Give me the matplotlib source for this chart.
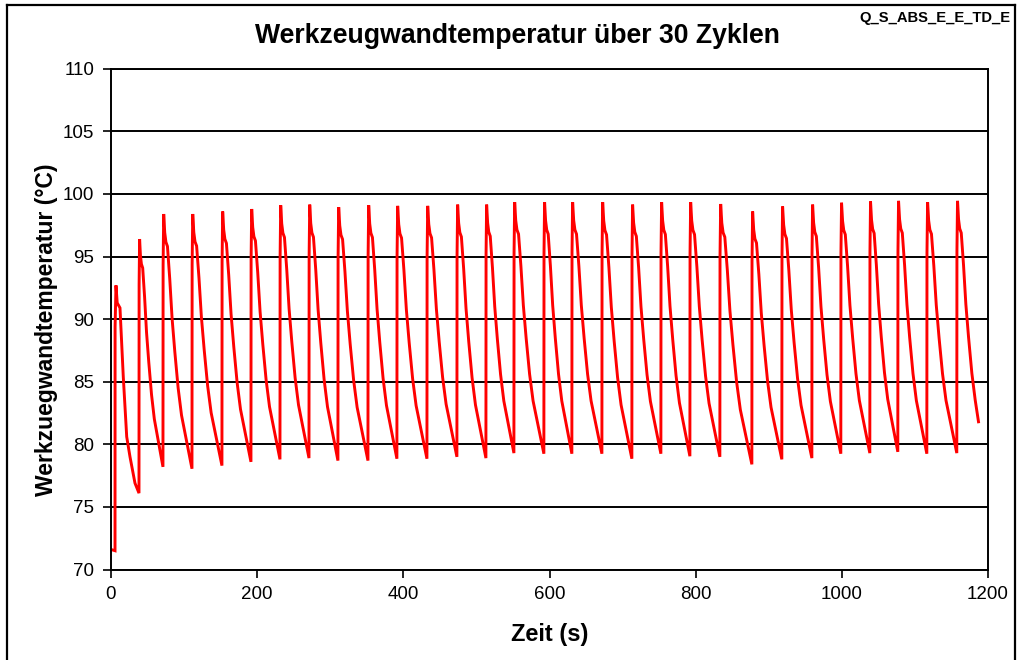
import matplotlib
matplotlib.use("Agg")
import matplotlib.pyplot as plt
from matplotlib.lines import Line2D

# ---- data ----
# time (s) at which each of the 30 cycles starts (temperature jump)
rise_t = [5.5, 38.3, 71.1, 110.8, 151.8, 191.5, 231.2, 270.9, 310.5, 351.6,
          391.2, 432.3, 473.3, 513.0, 551.3, 592.3, 630.6, 671.7, 712.7, 752.4,
          792.1, 833.1, 876.9, 917.9, 959.0, 998.6, 1038.3, 1076.6, 1116.3, 1157.3]
# minimum temperature just before each jump (°C)
trough_T = [71.5, 76.1, 78.2, 78.05, 78.3, 78.6, 78.8, 78.9, 78.7, 78.7,
            78.85, 78.85, 79.0, 78.9, 79.3, 79.25, 79.25, 79.25, 78.85, 79.25,
            79.05, 79.0, 78.4, 78.8, 78.9, 79.25, 79.3, 79.4, 79.25, 79.3]
# peak temperature of each cycle (°C)
peak_T = [92.7, 96.4, 98.4, 98.4, 98.6, 98.8, 99.1, 99.15, 98.95, 99.1,
          99.05, 99.05, 99.15, 99.15, 99.35, 99.35, 99.35, 99.35, 99.15, 99.35,
          99.35, 99.2, 98.6, 99.0, 99.15, 99.3, 99.4, 99.45, 99.35, 99.45]
# start of the record (flat section)
start_t = [0.0]
start_T = [71.6]
# first cycle (its shape differs from the rest)
cycle1_t = [5.6, 6.8, 8.5, 12.3, 16.8, 21.5, 26.0, 32.8]
cycle1_T = [89.4, 92.7, 91.3, 90.9, 85.4, 80.6, 79.0, 76.9]
# shape of a regular cycle read from the cycle at 71-110 s:
# seconds after the jump, and height between the next minimum (0) and the peak (1)
shape_dt = [0.2, 1.0, 2.4, 4.0, 6.1, 9.2, 12.4, 16.1, 20.6, 25.2, 32.1]
shape_frac = [0.80, 1.0, 0.927, 0.89, 0.873, 0.746, 0.590, 0.459, 0.317, 0.210, 0.107]
shape_period = 39.4
# last recorded point
end_t = 1187.0
end_T = 81.8

# ---- assemble series ----
ts = list(start_t)
Ts = list(start_T)
n = len(rise_t)
for k in range(n):
    ts.append(rise_t[k])
    Ts.append(trough_T[k])
    if k == 0:
        ts += cycle1_t
        Ts += cycle1_T
        continue
    if k < n - 1:
        period = rise_t[k + 1] - rise_t[k]
        nmin = trough_T[k + 1]
    else:
        period = shape_period
        nmin = trough_T[k]
    for dt, f in zip(shape_dt, shape_frac):
        tt = rise_t[k] + dt * period / shape_period
        if k == n - 1 and tt > end_t:
            break
        ts.append(tt)
        Ts.append(nmin + f * (peak_T[k] - nmin))
ts.append(end_t)
Ts.append(end_T)

# ---- figure ----
W, H = 1018, 660
fig = plt.figure(figsize=(W / 100, H / 100), dpi=100)
fam = ["Liberation Sans", "DejaVu Sans"]
ax = fig.add_axes([111 / W, 1 - 569.5 / H, (988 - 111) / W, (569.5 - 68.8) / H])

ax.plot(ts, Ts, color="#FF0000", lw=2.1, solid_joinstyle="miter")

ax.set_xlim(0, 1200)
ax.set_ylim(70, 110)
ax.set_xticks(range(0, 1201, 200))
ax.set_yticks(range(70, 111, 5))
ax.grid(axis="y", color="black", lw=1.4)
ax.set_axisbelow(True)
for s in ax.spines.values():
    s.set_color("black")
    s.set_linewidth(1.4)
ax.tick_params(direction="out", length=6, width=1.2, color="black",
               labelsize=13.5, pad=6)
for lab in ax.get_xticklabels() + ax.get_yticklabels():
    lab.set_family(fam)

ax.set_xlabel("Zeit (s)", fontsize=17, fontweight="bold", family=fam, labelpad=14)
ax.set_ylabel("Werkzuegwandtemperatur (°C)", fontsize=16.5, fontweight="bold",
              family=fam)
ax.yaxis.set_label_coords(-0.061, 0.478)

fig.text(517 / W, 1 - 36 / H, "Werkzeugwandtemperatur über 30 Zyklen",
         ha="center", va="center", fontsize=19.2, fontweight="bold", family=fam)
fig.text(1011 / W, 1 - 18 / H, "Q_S_ABS_E_E_TD_E", ha="right", va="center",
         fontsize=10.6, fontweight="bold", family=fam)

# outer frame
lw = 1.6
fig.add_artist(Line2D([7 / W, 7 / W], [0, 1 - 5 / H], transform=fig.transFigure,
                      color="black", lw=lw))
fig.add_artist(Line2D([7 / W, 1015 / W], [1 - 5 / H, 1 - 5 / H],
                      transform=fig.transFigure, color="black", lw=lw))
fig.add_artist(Line2D([1015 / W, 1015 / W], [0, 1 - 5 / H],
                      transform=fig.transFigure, color="black", lw=lw))

fig.savefig("out.png", dpi=100, facecolor="white")
